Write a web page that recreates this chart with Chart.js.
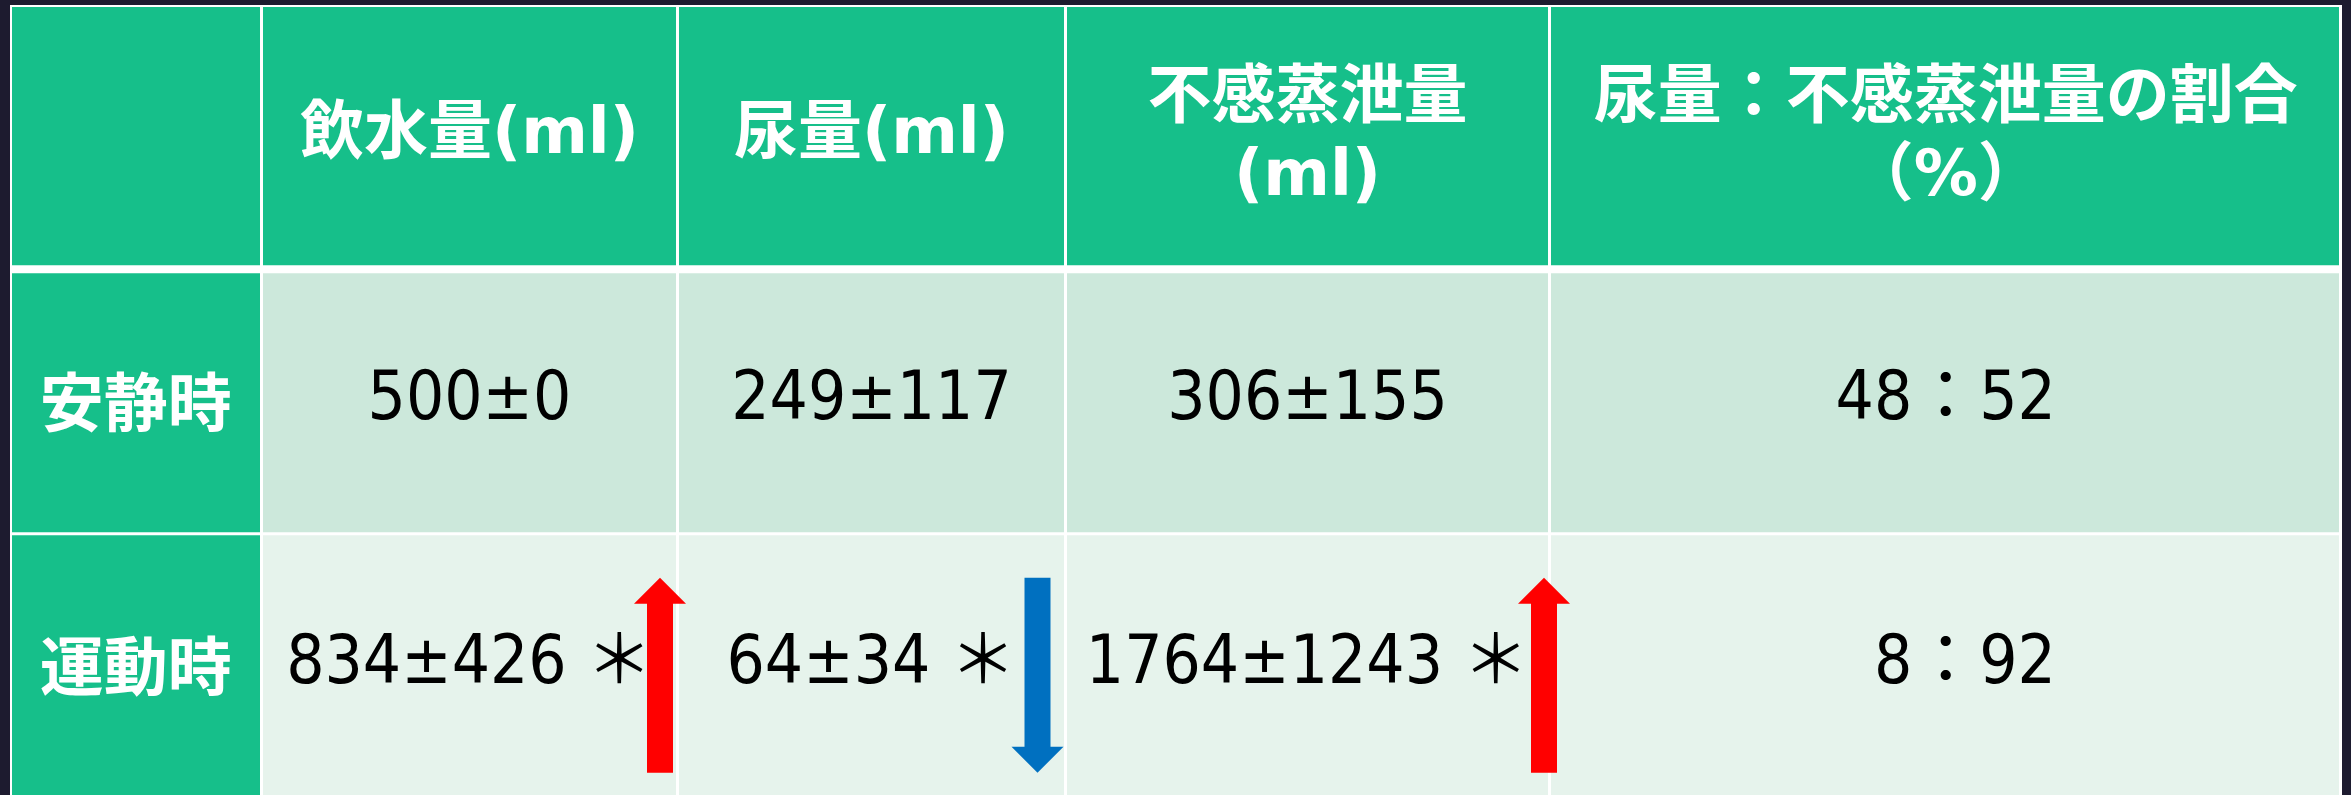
<!DOCTYPE html>
<html>
<head>
<meta charset="utf-8">
<script src="https://cdn.jsdelivr.net/npm/chart.js@4/dist/chart.umd.min.js"></script>
<style>
  html, body { margin: 0; padding: 0; background: #1d1b2f; overflow: hidden; }
  #wrap { width: 2351px; height: 800px; }
  canvas { display: block; }
</style>
</head>
<body>
<div id="wrap"><canvas id="tbl" width="2351" height="800"></canvas></div>
<script>
// ---- table content ----
const columnHeaders = ['', '飲水量(ml)', '尿量(ml)', ['不感蒸泄量', '(ml)'], ['尿量：不感蒸泄量の割合', '（%）']];
const rowLabels = ['安静時', '運動時'];
const restValues = ['500±0', '249±117', '306±155', '48：52'];
const exerciseValues = ['834±426 ＊', '64±34 ＊', '1764±1243 ＊', '\u20078：92'];
const exerciseTrend = ['up', 'down', 'up', null];

// ---- layout & style ----
const columnSpan = [251.5, 416, 388, 484, 792.5];   // relative column widths
const arrowInset = [17.5, 28, 5.5, 0];              // arrow offset from the cell's right edge
const GREEN = '#16bf8a';
const REST_BG = '#cce8db';
const EXERCISE_BG = '#e6f3ec';
const RULE = '#ffffff';
const HEAD_FONT = 'bold 64px "DejaVu Sans", "Noto Sans CJK JP", sans-serif';
const LABEL_FONT = 'bold 64px "Noto Sans CJK JP", sans-serif';
const VALUE_FONT = '67px "DejaVu Sans Condensed", "Open Sans", "Noto Sans CJK JP", sans-serif';

const rowKeys = ['header', ...rowLabels];
const rowText = [columnHeaders, [rowLabels[0], ...restValues], [rowLabels[1], ...exerciseValues]];

// one stacked dataset per column; every bar is a table cell
const datasets = columnSpan.map((span, c) => ({
  label: 'col' + c,
  data: rowKeys.map(() => span),
  stack: 'table',
  barPercentage: 1,
  categoryPercentage: 1,
  inflateAmount: 0,
  borderSkipped: false,
  borderColor: RULE,
  backgroundColor: (ctx) => {
    const r = ctx.dataIndex, col = ctx.datasetIndex;
    if (r === 0 || col === 0) return GREEN;
    return r === 1 ? REST_BG : EXERCISE_BG;
  },
  borderWidth: (ctx) => {
    const r = ctx.dataIndex, col = ctx.datasetIndex;
    return {
      left: col === 0 ? 2 : 1.5,
      right: col === columnSpan.length - 1 ? 3 : 1.5,
      top: r === 0 ? 2 : (r === 1 ? 4 : 1.5),
      bottom: r === 0 ? 4 : (r === 1 ? 1.5 : 2)
    };
  }
}));

// white underlay so seams between cells read as rules, not gaps
const tableBase = {
  id: 'tableBase',
  beforeDatasetsDraw(chart) {
    const { ctx, chartArea: a } = chart;
    ctx.save();
    ctx.fillStyle = RULE;
    ctx.fillRect(a.left, a.top, a.right - a.left, a.bottom - a.top);
    ctx.restore();
  }
};

function drawArrow(ctx, cx, top, len, dir, color) {
  const headW = 52, shaftW = 26, headL = 26;
  ctx.save();
  ctx.fillStyle = color;
  ctx.beginPath();
  if (dir === 'up') {
    ctx.moveTo(cx, top);
    ctx.lineTo(cx + headW / 2, top + headL);
    ctx.lineTo(cx + shaftW / 2, top + headL);
    ctx.lineTo(cx + shaftW / 2, top + len);
    ctx.lineTo(cx - shaftW / 2, top + len);
    ctx.lineTo(cx - shaftW / 2, top + headL);
    ctx.lineTo(cx - headW / 2, top + headL);
  } else {
    const bottom = top + len;
    ctx.moveTo(cx, bottom);
    ctx.lineTo(cx + headW / 2, bottom - headL);
    ctx.lineTo(cx + shaftW / 2, bottom - headL);
    ctx.lineTo(cx + shaftW / 2, top);
    ctx.lineTo(cx - shaftW / 2, top);
    ctx.lineTo(cx - shaftW / 2, bottom - headL);
    ctx.lineTo(cx - headW / 2, bottom - headL);
  }
  ctx.closePath();
  ctx.fill();
  ctx.restore();
}

const cellText = {
  id: 'cellText',
  afterDatasetsDraw(chart) {
    const ctx = chart.ctx;
    ctx.save();
    ctx.textAlign = 'center';
    ctx.textBaseline = 'middle';
    rowKeys.forEach((_, r) => {
      columnSpan.forEach((__, c) => {
        const el = chart.getDatasetMeta(c).data[r];
        const p = el.getProps(['x', 'y', 'base'], true);
        const cx = (p.x + p.base) / 2;
        const cy = p.y;
        const txt = rowText[r][c];
        if (!txt) return;
        if (r === 0) {
          ctx.fillStyle = '#ffffff';
          ctx.font = HEAD_FONT;
          const lines = Array.isArray(txt) ? txt : [txt];
          const gap = 78;
          lines.forEach((line, i) => {
            const off = (i - (lines.length - 1) / 2) * gap + (lines.length > 1 ? 2 : -1);
            ctx.fillText(line, cx, cy + off);
          });
        } else if (c === 0) {
          ctx.fillStyle = '#ffffff';
          ctx.font = LABEL_FONT;
          ctx.fillText(txt, cx, cy);
        } else {
          ctx.fillStyle = '#000000';
          ctx.font = VALUE_FONT;
          ctx.fillText(txt, cx, cy);
        }
      });
    });
    ctx.restore();

    // change markers for the exercise row
    const r = 2;
    exerciseTrend.forEach((dir, i) => {
      if (!dir) return;
      const c = i + 1;
      const el = chart.getDatasetMeta(c).data[r];
      const p = el.getProps(['x', 'y'], true);
      drawArrow(ctx, p.x - arrowInset[i], p.y - 88, 195, dir, dir === 'up' ? '#ff0000' : '#0070c0');
    });
  }
};

new Chart(document.getElementById('tbl'), {
  type: 'bar',
  data: { labels: rowKeys, datasets },
  options: {
    indexAxis: 'y',
    responsive: false,
    animation: false,
    devicePixelRatio: 1,
    layout: { padding: { left: 10, right: 9, top: 5, bottom: 2 } },
    scales: {
      x: { type: 'linear', stacked: true, min: 0, max: columnSpan.reduce((a, b) => a + b, 0), display: false },
      y: { type: 'category', stacked: true, display: false }
    },
    plugins: { legend: { display: false }, tooltip: { enabled: false } },
    events: []
  },
  plugins: [tableBase, cellText]
});
</script>
</body>
</html>
